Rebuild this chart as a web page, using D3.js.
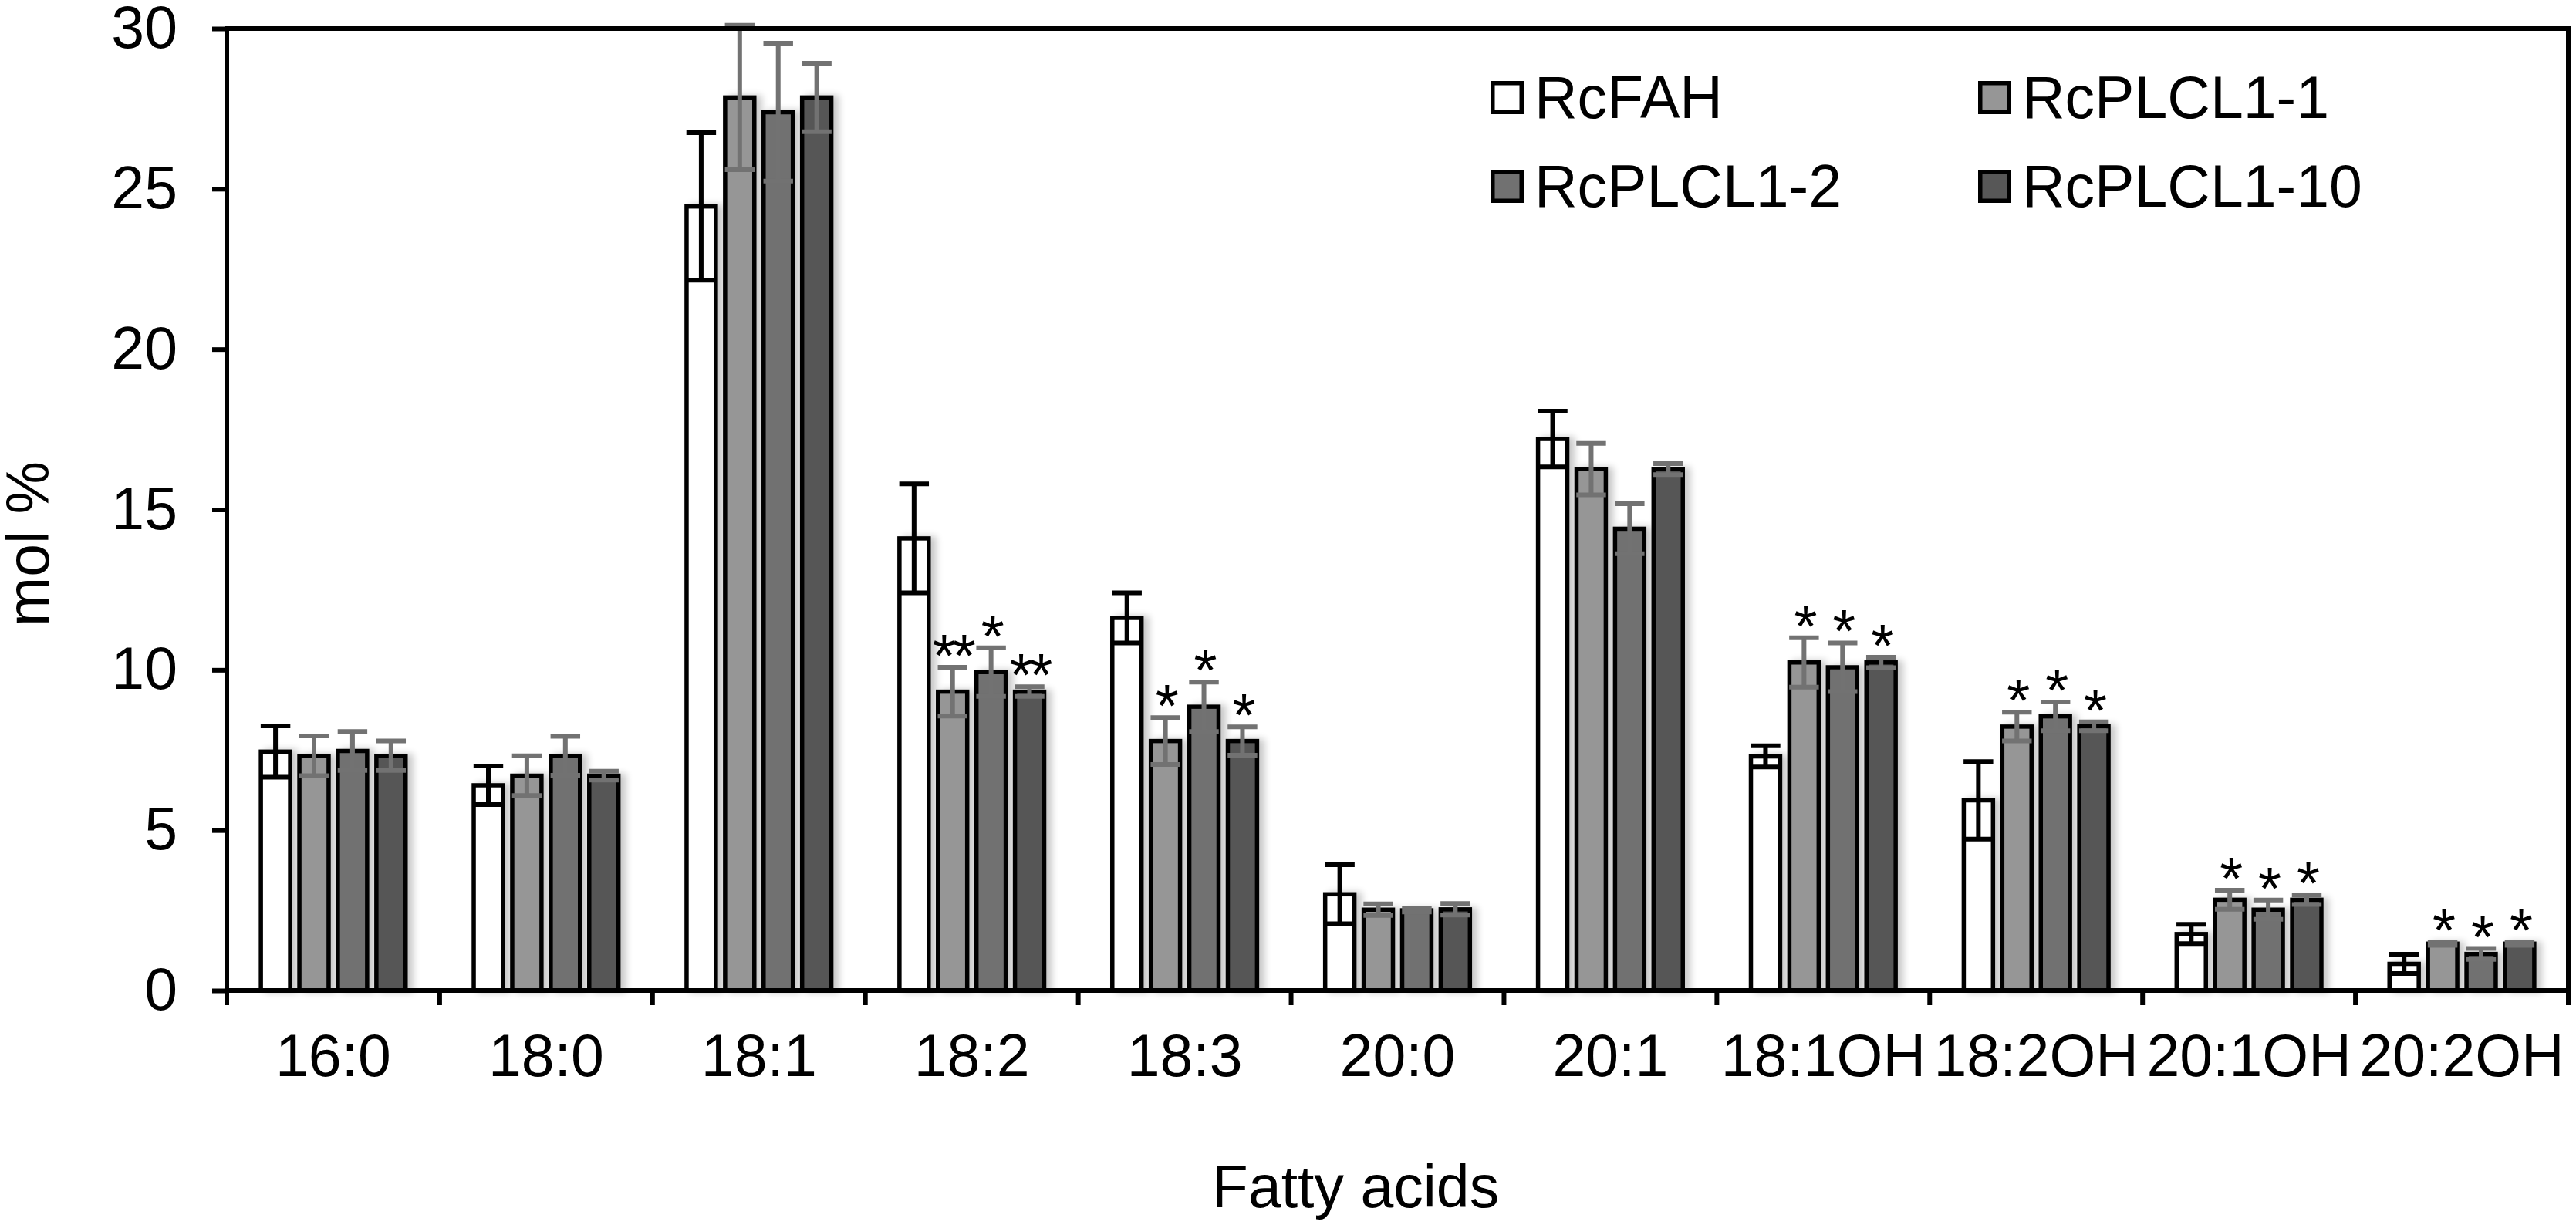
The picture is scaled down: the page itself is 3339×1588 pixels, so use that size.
<!DOCTYPE html>
<html>
<head>
<meta charset="utf-8">
<script src="https://cdn.jsdelivr.net/npm/d3@7/dist/d3.min.js"></script>
<style>
  html, body { margin: 0; padding: 0; background: #fff; }
  svg { display: block; font-family: "Liberation Sans", Arial, sans-serif; }
</style>
</head>
<body>
<svg id="chart" width="3339" height="1588"></svg>
<script>
// fatty acid composition, mol %
const categories = ['16:0', '18:0', '18:1', '18:2', '18:3', '20:0', '20:1', '18:1OH', '18:2OH', '20:1OH', '20:2OH'];
const seriesNames = ['RcFAH', 'RcPLCL1-1', 'RcPLCL1-2', 'RcPLCL1-10'];

const rcFAH      = [7.45, 6.40, 24.45, 14.10, 11.62, 3.00, 17.20, 7.30, 5.93, 1.76, 0.83];
const rcFAHErr   = [0.80, 0.60, 2.30, 1.70, 0.78, 0.92, 0.87, 0.33, 1.21, 0.30, 0.30];
const plcl1_1    = [7.32, 6.70, 27.85, 9.32, 7.78, 2.52, 16.26, 10.23, 8.23, 2.83, 1.46];
const plcl1_1Err = [0.62, 0.62, 2.25, 0.76, 0.73, 0.18, 0.80, 0.77, 0.45, 0.30, 0.05];
const plcl1_2    = [7.47, 7.32, 27.39, 9.93, 8.85, 2.50, 14.40, 10.08, 8.55, 2.52, 1.14];
const plcl1_2Err = [0.61, 0.61, 2.15, 0.76, 0.77, 0.05, 0.78, 0.76, 0.45, 0.30, 0.17];
const plcl1_10   = [7.32, 6.70, 27.85, 9.32, 7.78, 2.53, 16.26, 10.23, 8.24, 2.83, 1.46];
const plcl1_10Err= [0.46, 0.14, 1.07, 0.15, 0.44, 0.18, 0.17, 0.16, 0.14, 0.15, 0.05];

// significance marks above each bar
const rcFAHSig   = ['', '', '', '', '', '', '', '', '', '', ''];
const plcl1_1Sig = ['', '', '', '**', '*', '', '', '*', '*', '*', '*'];
const plcl1_2Sig = ['', '', '', '*', '*', '', '', '*', '*', '*', '*'];
const plcl1_10Sig= ['', '', '', '**', '*', '', '', '*', '*', '*', '*'];

const yTicks = [0, 5, 10, 15, 20, 25, 30];

const values = [rcFAH, plcl1_1, plcl1_2, plcl1_10];
const errors = [rcFAHErr, plcl1_1Err, plcl1_2Err, plcl1_10Err];
const sigs = [rcFAHSig, plcl1_1Sig, plcl1_2Sig, plcl1_10Sig];
const fills = ['#ffffff', '#969696', '#717171', '#575757'];
const errCol = ['#000000', '#727272', '#727272', '#727272'];

const rows = [];
categories.forEach((c, i) => seriesNames.forEach((s, j) => rows.push({
  cat: c, series: s, si: j, v: values[j][i], e: errors[j][i], sig: sigs[j][i]
})));

const svg = d3.select('#chart');
const m = { l: 294, r: 10, t: 37, b: 304 };
const W = 3339 - m.l - m.r, H = 1588 - m.t - m.b;
const FS = 77, LW = 6, BW = 5.5;

svg.append('defs').html(`
  <filter id="shade" x="-30%" y="-10%" width="180%" height="120%">
    <feGaussianBlur in="SourceAlpha" stdDeviation="5"/>
    <feOffset dx="7" dy="0" result="o"/>
    <feComponentTransfer><feFuncA type="linear" slope="0.22"/></feComponentTransfer>
    <feMerge><feMergeNode/><feMergeNode in="SourceGraphic"/></feMerge>
  </filter>`);

const g = svg.append('g').attr('transform', `translate(${m.l},${m.t})`);

const x0 = d3.scaleBand().domain(categories).range([0, W]).paddingInner(0.3).paddingOuter(0.15);
const x1 = d3.scaleBand().domain(seriesNames).range([0, x0.bandwidth()]).paddingInner(0.13).paddingOuter(0);
const y = d3.scaleLinear().domain([0, 30]).range([H, 0]);

// bars
const gb = g.append('g').attr('filter', 'url(#shade)');
gb.selectAll('rect').data(rows).enter().append('rect')
  .attr('x', d => x0(d.cat) + x1(d.series) + BW / 2)
  .attr('width', x1.bandwidth() - BW)
  .attr('y', d => y(d.v))
  .attr('height', d => H - y(d.v))
  .attr('fill', d => fills[d.si])
  .attr('stroke', '#000').attr('stroke-width', BW);

// error bars
const ge = g.append('g').attr('fill', 'none').attr('stroke-width', LW);
const cx = d => x0(d.cat) + x1(d.series) + x1.bandwidth() / 2;
const capW = x1.bandwidth() - 5;
ge.selectAll('path').data(rows).enter().append('path')
  .attr('stroke', d => errCol[d.si])
  .attr('d', d => {
    const a = y(d.v + d.e), b = y(d.v - d.e), c = cx(d);
    return `M${c},${a}V${b}M${c - capW / 2},${a}H${c + capW / 2}M${c - capW / 2},${b}H${c + capW / 2}`;
  });

// significance stars
g.append('g').selectAll('text').data(rows.filter(d => d.sig)).enter().append('text')
  .attr('x', cx).attr('y', d => y(d.v + d.e) + 12)
  .attr('text-anchor', 'middle').attr('font-size', FS).attr('fill', '#000')
  .attr('letter-spacing', -4)
  .text(d => d.sig);

// axes
const ya = g.append('g').call(d3.axisLeft(y).tickValues(yTicks).tickSizeInner(19).tickSizeOuter(0).tickPadding(45));
ya.select('.domain').remove();
ya.selectAll('line').attr('stroke-width', LW);
ya.selectAll('text').attr('font-size', FS).attr('font-family', null);

const xa = g.append('g').attr('transform', `translate(0,${H})`)
  .call(d3.axisBottom(x0).tickSizeInner(0).tickSizeOuter(0).tickPadding(56));
xa.select('.domain').remove();
xa.selectAll('text').attr('font-size', FS).attr('font-family', null);

const bounds = categories.map(c => x0(c) - x0.step() * x0.paddingOuter()).concat([W]);
g.append('g').selectAll('line').data(bounds).enter().append('line')
  .attr('x1', d => d).attr('x2', d => d).attr('y1', H).attr('y2', H + 19)
  .attr('stroke', '#000').attr('stroke-width', LW);

// frame
g.append('rect').attr('x', 0).attr('y', 0).attr('width', W).attr('height', H)
  .attr('fill', 'none').attr('stroke', '#000').attr('stroke-width', LW);

// axis titles
svg.append('text').attr('transform', 'rotate(-90)').attr('x', -705).attr('y', 63)
  .attr('text-anchor', 'middle').attr('font-size', FS).text('mol %');
svg.append('text').attr('x', 1757).attr('y', 1565)
  .attr('text-anchor', 'middle').attr('font-size', FS).text('Fatty acids');

// legend, two columns
const lg = svg.append('g').attr('transform', 'translate(1932,105)');
const li = lg.selectAll('g').data(seriesNames).enter().append('g')
  .attr('transform', (d, i) => `translate(${(i % 2) * 632},${Math.floor(i / 2) * 115})`);
li.append('rect').attr('x', BW / 2).attr('y', BW / 2).attr('width', 43 - BW).attr('height', 43 - BW)
  .attr('fill', (d, i) => fills[i]).attr('stroke', '#000').attr('stroke-width', BW);
li.append('text').attr('x', 57).attr('y', 48).attr('font-size', FS).text(d => d);
</script>
</body>
</html>
